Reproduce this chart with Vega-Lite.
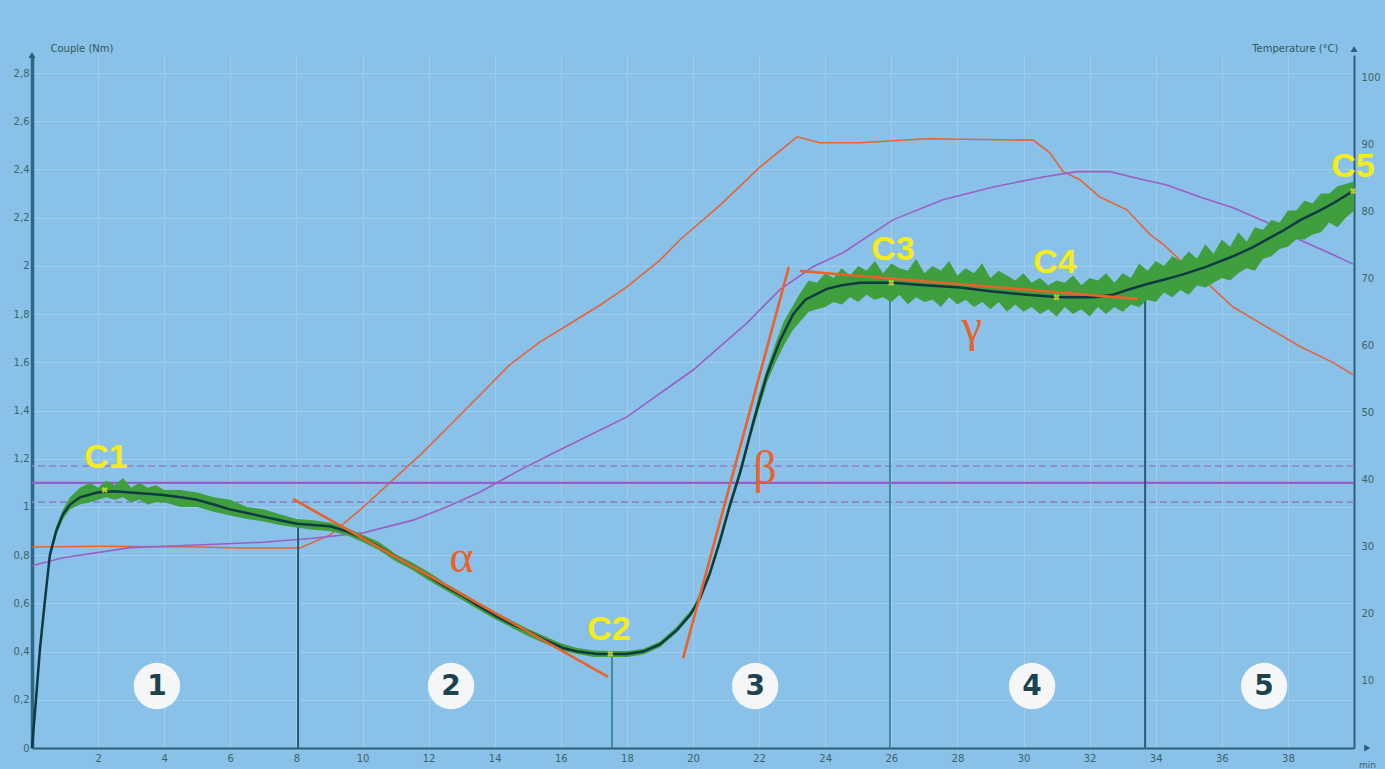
{
  "$schema": "https://vega.github.io/schema/vega-lite/v6.json",
  "width": 1322,
  "height": 693,
  "autosize": {"type": "none"},
  "padding": {"left": 32, "top": 55, "right": 31, "bottom": 21},
  "background": "#8AC1E9",
  "config": {"view": {"stroke": null}, "font": "DejaVu Sans"},
  "datasets": {
    "temps": [
      {"curve": "consigne", "t": 0, "c": 30.0},
      {"curve": "consigne", "t": 2.06, "c": 30.1},
      {"curve": "consigne", "t": 5.08, "c": 30.0},
      {"curve": "consigne", "t": 6.29, "c": 29.85},
      {"curve": "consigne", "t": 8.11, "c": 29.85},
      {"curve": "consigne", "t": 9.02, "c": 31.8},
      {"curve": "consigne", "t": 9.92, "c": 35.5},
      {"curve": "consigne", "t": 10.83, "c": 39.6},
      {"curve": "consigne", "t": 11.74, "c": 43.7},
      {"curve": "consigne", "t": 12.65, "c": 48.2},
      {"curve": "consigne", "t": 13.56, "c": 52.7},
      {"curve": "consigne", "t": 14.46, "c": 57.2},
      {"curve": "consigne", "t": 15.37, "c": 60.6},
      {"curve": "consigne", "t": 15.98, "c": 62.4},
      {"curve": "consigne", "t": 17.19, "c": 66.1},
      {"curve": "consigne", "t": 18.0, "c": 68.8},
      {"curve": "consigne", "t": 19.0, "c": 72.8},
      {"curve": "consigne", "t": 19.6, "c": 75.8},
      {"curve": "consigne", "t": 20.82, "c": 81.0},
      {"curve": "consigne", "t": 22.03, "c": 86.7},
      {"curve": "consigne", "t": 23.15, "c": 91.2},
      {"curve": "consigne", "t": 23.84, "c": 90.3},
      {"curve": "consigne", "t": 25.05, "c": 90.3},
      {"curve": "consigne", "t": 27.08, "c": 90.9},
      {"curve": "consigne", "t": 30.29, "c": 90.7},
      {"curve": "consigne", "t": 30.8, "c": 88.8},
      {"curve": "consigne", "t": 31.2, "c": 86.0},
      {"curve": "consigne", "t": 31.71, "c": 84.8},
      {"curve": "consigne", "t": 32.31, "c": 82.2},
      {"curve": "consigne", "t": 33.13, "c": 80.3},
      {"curve": "consigne", "t": 33.83, "c": 76.6},
      {"curve": "consigne", "t": 34.22, "c": 75.2},
      {"curve": "consigne", "t": 34.95, "c": 71.8},
      {"curve": "consigne", "t": 35.55, "c": 69.4},
      {"curve": "consigne", "t": 36.34, "c": 65.8},
      {"curve": "consigne", "t": 37.37, "c": 62.8},
      {"curve": "consigne", "t": 38.37, "c": 59.9},
      {"curve": "consigne", "t": 39.37, "c": 57.5},
      {"curve": "consigne", "t": 39.97, "c": 55.7},
      {"curve": "pate", "t": 0, "c": 27.2},
      {"curve": "pate", "t": 0.94, "c": 28.4},
      {"curve": "pate", "t": 2.97, "c": 29.9},
      {"curve": "pate", "t": 4.99, "c": 30.3},
      {"curve": "pate", "t": 6.99, "c": 30.7},
      {"curve": "pate", "t": 8.5, "c": 31.3},
      {"curve": "pate", "t": 10.02, "c": 32.1},
      {"curve": "pate", "t": 11.53, "c": 34.0},
      {"curve": "pate", "t": 12.56, "c": 36.0},
      {"curve": "pate", "t": 13.56, "c": 38.2},
      {"curve": "pate", "t": 14.77, "c": 41.5},
      {"curve": "pate", "t": 15.98, "c": 44.5},
      {"curve": "pate", "t": 18.0, "c": 49.4},
      {"curve": "pate", "t": 20.0, "c": 56.4},
      {"curve": "pate", "t": 21.63, "c": 63.4},
      {"curve": "pate", "t": 22.63, "c": 68.4},
      {"curve": "pate", "t": 23.63, "c": 71.8},
      {"curve": "pate", "t": 24.54, "c": 73.9},
      {"curve": "pate", "t": 26.05, "c": 78.8},
      {"curve": "pate", "t": 27.56, "c": 81.8},
      {"curve": "pate", "t": 29.08, "c": 83.7},
      {"curve": "pate", "t": 30.59, "c": 85.2},
      {"curve": "pate", "t": 31.62, "c": 86.0},
      {"curve": "pate", "t": 32.62, "c": 86.0},
      {"curve": "pate", "t": 33.62, "c": 84.8},
      {"curve": "pate", "t": 34.34, "c": 84.0},
      {"curve": "pate", "t": 35.34, "c": 82.2},
      {"curve": "pate", "t": 36.34, "c": 80.6},
      {"curve": "pate", "t": 37.37, "c": 78.4},
      {"curve": "pate", "t": 38.37, "c": 75.8},
      {"curve": "pate", "t": 39.37, "c": 73.6},
      {"curve": "pate", "t": 39.97, "c": 72.2}
    ],
    "raw": [
      {"t": 0, "lo": 0, "hi": 0.02},
      {"t": 0.12, "lo": 0.18, "hi": 0.23},
      {"t": 0.24, "lo": 0.39, "hi": 0.44},
      {"t": 0.39, "lo": 0.59, "hi": 0.63},
      {"t": 0.54, "lo": 0.78, "hi": 0.82},
      {"t": 0.73, "lo": 0.88, "hi": 0.92},
      {"t": 0.94, "lo": 0.95, "hi": 0.99},
      {"t": 1.15, "lo": 0.99, "hi": 1.04},
      {"t": 1.45, "lo": 1.01, "hi": 1.08},
      {"t": 1.75, "lo": 1.02, "hi": 1.1},
      {"t": 2.0, "lo": 1.03, "hi": 1.08},
      {"t": 2.25, "lo": 1.04, "hi": 1.11},
      {"t": 2.5, "lo": 1.03, "hi": 1.09},
      {"t": 2.75, "lo": 1.04, "hi": 1.12},
      {"t": 3.0, "lo": 1.02, "hi": 1.08},
      {"t": 3.25, "lo": 1.03, "hi": 1.1},
      {"t": 3.5, "lo": 1.01, "hi": 1.08},
      {"t": 3.75, "lo": 1.02, "hi": 1.09},
      {"t": 4.0, "lo": 1.02, "hi": 1.07},
      {"t": 4.5, "lo": 1.0, "hi": 1.07},
      {"t": 5.0, "lo": 1.0, "hi": 1.06},
      {"t": 5.5, "lo": 0.98, "hi": 1.04},
      {"t": 6.0, "lo": 0.965, "hi": 1.03},
      {"t": 6.5, "lo": 0.95, "hi": 1.0},
      {"t": 7.0, "lo": 0.94, "hi": 0.99},
      {"t": 7.5, "lo": 0.925, "hi": 0.97},
      {"t": 8.0, "lo": 0.915, "hi": 0.95},
      {"t": 8.5, "lo": 0.905, "hi": 0.945},
      {"t": 9.0, "lo": 0.9, "hi": 0.935},
      {"t": 9.5, "lo": 0.885, "hi": 0.915},
      {"t": 10.0, "lo": 0.855, "hi": 0.885},
      {"t": 10.5, "lo": 0.82, "hi": 0.855},
      {"t": 11.0, "lo": 0.775, "hi": 0.805},
      {"t": 11.5, "lo": 0.74, "hi": 0.77},
      {"t": 12.0, "lo": 0.695, "hi": 0.73},
      {"t": 12.5, "lo": 0.655, "hi": 0.685},
      {"t": 13.0, "lo": 0.615, "hi": 0.645},
      {"t": 13.5, "lo": 0.575, "hi": 0.605},
      {"t": 14.0, "lo": 0.535, "hi": 0.565},
      {"t": 14.5, "lo": 0.5, "hi": 0.53},
      {"t": 15.0, "lo": 0.465, "hi": 0.495},
      {"t": 15.5, "lo": 0.435, "hi": 0.465},
      {"t": 16.0, "lo": 0.405, "hi": 0.435},
      {"t": 16.5, "lo": 0.39, "hi": 0.415},
      {"t": 17.0, "lo": 0.378, "hi": 0.405},
      {"t": 17.5, "lo": 0.378, "hi": 0.402},
      {"t": 18.0, "lo": 0.378, "hi": 0.402},
      {"t": 18.5, "lo": 0.388, "hi": 0.412},
      {"t": 19.0, "lo": 0.418, "hi": 0.442},
      {"t": 19.5, "lo": 0.478, "hi": 0.502},
      {"t": 20.0, "lo": 0.558, "hi": 0.582},
      {"t": 20.5, "lo": 0.705, "hi": 0.735},
      {"t": 21.0, "lo": 0.935, "hi": 0.965},
      {"t": 21.5, "lo": 1.16, "hi": 1.2},
      {"t": 21.75, "lo": 1.29, "hi": 1.33},
      {"t": 22.0, "lo": 1.41, "hi": 1.47},
      {"t": 22.25, "lo": 1.52, "hi": 1.58},
      {"t": 22.5, "lo": 1.6, "hi": 1.68},
      {"t": 22.75, "lo": 1.67, "hi": 1.77},
      {"t": 23.0, "lo": 1.73, "hi": 1.83},
      {"t": 23.25, "lo": 1.77, "hi": 1.89},
      {"t": 23.5, "lo": 1.81, "hi": 1.94},
      {"t": 23.75, "lo": 1.82, "hi": 1.93},
      {"t": 24.0, "lo": 1.83, "hi": 1.97},
      {"t": 24.25, "lo": 1.85, "hi": 1.95},
      {"t": 24.5, "lo": 1.84, "hi": 1.99},
      {"t": 24.75, "lo": 1.87, "hi": 1.96},
      {"t": 25.0, "lo": 1.85, "hi": 2.0},
      {"t": 25.25, "lo": 1.88, "hi": 1.98},
      {"t": 25.5, "lo": 1.86, "hi": 2.02},
      {"t": 25.75, "lo": 1.87, "hi": 1.97},
      {"t": 26.0, "lo": 1.85, "hi": 2.01},
      {"t": 26.25, "lo": 1.88, "hi": 1.99},
      {"t": 26.5, "lo": 1.84, "hi": 1.98},
      {"t": 26.75, "lo": 1.87, "hi": 2.03},
      {"t": 27.0, "lo": 1.85, "hi": 1.97},
      {"t": 27.25, "lo": 1.86, "hi": 2.0},
      {"t": 27.5, "lo": 1.83, "hi": 1.98},
      {"t": 27.75, "lo": 1.87, "hi": 2.02},
      {"t": 28.0, "lo": 1.84, "hi": 1.96},
      {"t": 28.25, "lo": 1.86, "hi": 1.99},
      {"t": 28.5, "lo": 1.83, "hi": 1.97},
      {"t": 28.75, "lo": 1.85, "hi": 2.01},
      {"t": 29.0, "lo": 1.82, "hi": 1.95},
      {"t": 29.25, "lo": 1.85, "hi": 1.98},
      {"t": 29.5, "lo": 1.81, "hi": 1.96},
      {"t": 29.75, "lo": 1.84, "hi": 1.94},
      {"t": 30.0, "lo": 1.81, "hi": 1.97},
      {"t": 30.25, "lo": 1.83, "hi": 1.93},
      {"t": 30.5, "lo": 1.8, "hi": 1.95},
      {"t": 30.75, "lo": 1.82, "hi": 1.92},
      {"t": 31.0, "lo": 1.79, "hi": 1.94},
      {"t": 31.25, "lo": 1.83, "hi": 1.93},
      {"t": 31.5, "lo": 1.8, "hi": 1.96},
      {"t": 31.75, "lo": 1.82, "hi": 1.92},
      {"t": 32.0, "lo": 1.79, "hi": 1.95},
      {"t": 32.25, "lo": 1.83, "hi": 1.94},
      {"t": 32.5, "lo": 1.8, "hi": 1.97},
      {"t": 32.75, "lo": 1.83, "hi": 1.93},
      {"t": 33.0, "lo": 1.81, "hi": 1.97},
      {"t": 33.25, "lo": 1.84, "hi": 1.95},
      {"t": 33.5, "lo": 1.83, "hi": 2.01},
      {"t": 33.75, "lo": 1.86, "hi": 1.98},
      {"t": 34.0, "lo": 1.85, "hi": 2.02},
      {"t": 34.25, "lo": 1.89, "hi": 2.0},
      {"t": 34.5, "lo": 1.87, "hi": 2.04},
      {"t": 34.75, "lo": 1.9, "hi": 2.02},
      {"t": 35.0, "lo": 1.88, "hi": 2.06},
      {"t": 35.25, "lo": 1.92, "hi": 2.03},
      {"t": 35.5, "lo": 1.91, "hi": 2.09},
      {"t": 35.75, "lo": 1.93, "hi": 2.05},
      {"t": 36.0, "lo": 1.95, "hi": 2.11},
      {"t": 36.25, "lo": 1.94, "hi": 2.08},
      {"t": 36.5, "lo": 1.97, "hi": 2.14},
      {"t": 36.75, "lo": 1.99, "hi": 2.1},
      {"t": 37.0, "lo": 1.98, "hi": 2.16},
      {"t": 37.25, "lo": 2.03, "hi": 2.15},
      {"t": 37.5, "lo": 2.04, "hi": 2.19},
      {"t": 37.75, "lo": 2.07, "hi": 2.18},
      {"t": 38.0, "lo": 2.08, "hi": 2.23},
      {"t": 38.25, "lo": 2.11, "hi": 2.23},
      {"t": 38.5, "lo": 2.11, "hi": 2.27},
      {"t": 38.75, "lo": 2.13, "hi": 2.26},
      {"t": 39.0, "lo": 2.14, "hi": 2.3},
      {"t": 39.25, "lo": 2.18, "hi": 2.3},
      {"t": 39.5, "lo": 2.16, "hi": 2.33},
      {"t": 39.75, "lo": 2.2, "hi": 2.34},
      {"t": 40.0, "lo": 2.23, "hi": 2.35}
    ],
    "smooth": [
      {"t": 0, "nm": 0}, {"t": 0.12, "nm": 0.2}, {"t": 0.24, "nm": 0.41}, {"t": 0.39, "nm": 0.61},
      {"t": 0.54, "nm": 0.8}, {"t": 0.73, "nm": 0.9}, {"t": 0.94, "nm": 0.97}, {"t": 1.15, "nm": 1.01},
      {"t": 1.45, "nm": 1.04}, {"t": 1.97, "nm": 1.06}, {"t": 2.5, "nm": 1.065}, {"t": 2.97, "nm": 1.06},
      {"t": 3.5, "nm": 1.055}, {"t": 3.96, "nm": 1.05}, {"t": 4.5, "nm": 1.04}, {"t": 4.99, "nm": 1.03},
      {"t": 5.5, "nm": 1.01}, {"t": 5.99, "nm": 0.99}, {"t": 6.5, "nm": 0.975}, {"t": 6.99, "nm": 0.96},
      {"t": 7.5, "nm": 0.945}, {"t": 8.02, "nm": 0.93}, {"t": 8.5, "nm": 0.925}, {"t": 9.02, "nm": 0.92},
      {"t": 9.5, "nm": 0.9}, {"t": 10.02, "nm": 0.87}, {"t": 10.5, "nm": 0.835}, {"t": 11.04, "nm": 0.79},
      {"t": 11.5, "nm": 0.755}, {"t": 12.04, "nm": 0.71}, {"t": 12.5, "nm": 0.67}, {"t": 13.04, "nm": 0.63},
      {"t": 13.5, "nm": 0.59}, {"t": 14.07, "nm": 0.545}, {"t": 14.5, "nm": 0.515}, {"t": 15.07, "nm": 0.48},
      {"t": 15.5, "nm": 0.45}, {"t": 16.07, "nm": 0.415}, {"t": 16.5, "nm": 0.4}, {"t": 17.1, "nm": 0.39},
      {"t": 17.58, "nm": 0.39}, {"t": 18.0, "nm": 0.39}, {"t": 18.49, "nm": 0.4}, {"t": 19.0, "nm": 0.43},
      {"t": 19.52, "nm": 0.49}, {"t": 19.9, "nm": 0.55}, {"t": 20.21, "nm": 0.62}, {"t": 20.5, "nm": 0.72},
      {"t": 20.82, "nm": 0.86}, {"t": 21.1, "nm": 1.0}, {"t": 21.42, "nm": 1.14}, {"t": 21.82, "nm": 1.35},
      {"t": 22.24, "nm": 1.55}, {"t": 22.63, "nm": 1.69}, {"t": 23.03, "nm": 1.8}, {"t": 23.4, "nm": 1.86},
      {"t": 24.05, "nm": 1.905}, {"t": 24.5, "nm": 1.92}, {"t": 25.05, "nm": 1.93}, {"t": 26.05, "nm": 1.93},
      {"t": 27.0, "nm": 1.92}, {"t": 28.08, "nm": 1.91}, {"t": 29.0, "nm": 1.895}, {"t": 30.1, "nm": 1.88},
      {"t": 31.1, "nm": 1.87}, {"t": 32.1, "nm": 1.87}, {"t": 32.7, "nm": 1.88}, {"t": 33.13, "nm": 1.9},
      {"t": 33.74, "nm": 1.925}, {"t": 34.3, "nm": 1.945}, {"t": 34.83, "nm": 1.965}, {"t": 35.5, "nm": 1.995},
      {"t": 36.34, "nm": 2.04}, {"t": 36.9, "nm": 2.075}, {"t": 37.37, "nm": 2.11}, {"t": 37.9, "nm": 2.15},
      {"t": 38.37, "nm": 2.19}, {"t": 38.9, "nm": 2.225}, {"t": 39.37, "nm": 2.26}, {"t": 39.97, "nm": 2.31}
    ],
    "hlines": [
      {"nm": 1.1, "kind": "consigne"},
      {"nm": 1.17, "kind": "tolerance"},
      {"nm": 1.02, "kind": "tolerance"}
    ],
    "vlines": [
      {"t": 8.05, "nm": 0.945, "kind": "a"},
      {"t": 17.55, "nm": 0.39, "kind": "b"},
      {"t": 25.96, "nm": 1.93, "kind": "b"},
      {"t": 33.68, "nm": 1.925, "kind": "a"}
    ],
    "tangents": [
      {"name": "alpha", "t": 7.9, "nm": 1.033},
      {"name": "alpha", "t": 17.43, "nm": 0.295},
      {"name": "beta", "t": 19.7, "nm": 0.373},
      {"name": "beta", "t": 22.9, "nm": 1.996},
      {"name": "gamma", "t": 23.24, "nm": 1.979},
      {"name": "gamma", "t": 33.46, "nm": 1.863}
    ],
    "points": [
      {"label": "C1", "t": 2.2, "nm": 1.07, "lt": 2.24, "lnm": 1.162},
      {"label": "C2", "t": 17.5, "nm": 0.39, "lt": 17.46, "lnm": 0.448},
      {"label": "C3", "t": 26.0, "nm": 1.93, "lt": 26.05, "lnm": 2.025},
      {"label": "C4", "t": 31.0, "nm": 1.87, "lt": 30.95, "lnm": 1.971},
      {"label": "C5", "t": 39.97, "nm": 2.31, "lt": 39.97, "lnm": 2.369}
    ],
    "greek": [
      {"g": "α", "t": 13.0, "nm": 0.73},
      {"g": "β", "t": 22.18, "nm": 1.1},
      {"g": "γ", "t": 28.44, "nm": 1.69}
    ],
    "phases": [
      {"n": "1", "t": 3.78, "nm": 0.257},
      {"n": "2", "t": 12.68, "nm": 0.257},
      {"n": "3", "t": 21.88, "nm": 0.257},
      {"n": "4", "t": 30.26, "nm": 0.257},
      {"n": "5", "t": 37.28, "nm": 0.257}
    ],
    "arrows": [
      {"t": 0, "nm": 2.875, "dir": "up"},
      {"t": 40, "nm": 2.9, "dir": "up"},
      {"t": 40.4, "nm": 0, "dir": "right"}
    ]
  },
  "layer": [
    {
      "data": {"name": "temps"},
      "transform": [{"filter": "datum.curve == 'consigne'"}],
      "mark": {"type": "line", "strokeWidth": 1.6, "color": "#e4643a"},
      "encoding": {
        "x": {
          "field": "t", "type": "quantitative",
          "scale": {"domain": [0, 40], "nice": false, "zero": false},
          "axis": {
            "orient": "bottom",
            "values": [2, 4, 6, 8, 10, 12, 14, 16, 18, 20, 22, 24, 26, 28, 30, 32, 34, 36, 38],
            "grid": true, "gridColor": "#a0ccec", "gridWidth": 1,
            "ticks": false, "labelPadding": 5, "labelFontSize": 10, "labelColor": "#3d6464",
            "domainColor": "#2d6076", "domainWidth": 2,
            "title": "min", "titleFontSize": 9, "titleFontWeight": "normal", "titleColor": "#3d6464",
            "titleX": 1335, "titleY": 16, "titleAlign": "center", "titleBaseline": "middle"
          }
        },
        "y": {
          "field": "c", "type": "quantitative",
          "scale": {"domain": [0, 103.4], "nice": false, "zero": false},
          "axis": {
            "orient": "right", "values": [10, 20, 30, 40, 50, 60, 70, 80, 90, 100],
            "grid": false, "ticks": false, "labelPadding": 7, "labelFontSize": 10, "labelColor": "#3d6464",
            "domainColor": "#2d6076", "domainWidth": 2,
            "title": "Temperature (°C)", "titleAngle": 0, "titleAlign": "right", "titleBaseline": "middle",
            "titleX": -16, "titleY": -7, "titleFontSize": 10, "titleFontWeight": "normal", "titleColor": "#2f5a5a"
          }
        }
      }
    },
    {
      "data": {"name": "temps"},
      "transform": [{"filter": "datum.curve == 'pate'"}],
      "mark": {"type": "line", "strokeWidth": 1.6, "color": "#9a5fc4"},
      "encoding": {
        "x": {"field": "t", "type": "quantitative", "scale": {"domain": [0, 40], "nice": false, "zero": false}},
        "y": {"field": "c", "type": "quantitative", "scale": {"domain": [0, 103.4], "nice": false, "zero": false}, "axis": null}
      }
    },
    {
      "data": {"name": "hlines"},
      "transform": [{"filter": "datum.kind == 'tolerance'"}],
      "mark": {"type": "rule", "color": "#8d85c6", "strokeWidth": 1.6, "strokeDash": [7, 4]},
      "encoding": {
        "y": {"field": "nm", "type": "quantitative", "scale": {"domain": [0, 2.875], "nice": false, "zero": false}, "axis": null}
      }
    },
    {
      "data": {"name": "hlines"},
      "transform": [{"filter": "datum.kind == 'consigne'"}],
      "mark": {"type": "rule", "color": "#9a5cc6", "strokeWidth": 2.2},
      "encoding": {
        "y": {"field": "nm", "type": "quantitative", "scale": {"domain": [0, 2.875], "nice": false, "zero": false}, "axis": null}
      }
    },
    {
      "data": {"name": "vlines"},
      "transform": [{"filter": "datum.kind == 'a'"}],
      "mark": {"type": "rule", "strokeWidth": 2, "color": "#2c5870"},
      "encoding": {
        "x": {"field": "t", "type": "quantitative", "scale": {"domain": [0, 40], "nice": false, "zero": false}},
        "y": {"field": "nm", "type": "quantitative", "scale": {"domain": [0, 2.875], "nice": false, "zero": false}, "axis": null},
        "y2": {"datum": 0}
      }
    },
    {
      "data": {"name": "vlines"},
      "transform": [{"filter": "datum.kind == 'b'"}],
      "mark": {"type": "rule", "strokeWidth": 2, "color": "#3a8f98"},
      "encoding": {
        "x": {"field": "t", "type": "quantitative", "scale": {"domain": [0, 40], "nice": false, "zero": false}},
        "y": {"field": "nm", "type": "quantitative", "scale": {"domain": [0, 2.875], "nice": false, "zero": false}, "axis": null},
        "y2": {"datum": 0}
      }
    },
    {
      "data": {"name": "raw"},
      "mark": {"type": "area", "color": "#3f9f3f", "opacity": 1},
      "encoding": {
        "x": {"field": "t", "type": "quantitative", "scale": {"domain": [0, 40], "nice": false, "zero": false}},
        "y": {"field": "lo", "type": "quantitative", "scale": {"domain": [0, 2.875], "nice": false, "zero": false}, "axis": null},
        "y2": {"field": "hi"}
      }
    },
    {
      "data": {"name": "smooth"},
      "mark": {"type": "line", "color": "#0f3a44", "strokeWidth": 2.5},
      "encoding": {
        "x": {"field": "t", "type": "quantitative", "scale": {"domain": [0, 40], "nice": false, "zero": false}},
        "y": {
          "field": "nm", "type": "quantitative",
          "scale": {"domain": [0, 2.875], "nice": false, "zero": false},
          "axis": {
            "orient": "left", "values": [0, 0.2, 0.4, 0.6, 0.8, 1, 1.2, 1.4, 1.6, 1.8, 2, 2.2, 2.4, 2.6, 2.8],
            "labelExpr": "replace(format(datum.value, '.1~f'), '.', ',')",
            "grid": true, "gridColor": "#a0ccec", "gridWidth": 1,
            "ticks": false, "labelPadding": 3, "labelFontSize": 10, "labelColor": "#3d6464",
            "domainColor": "#2d6782", "domainWidth": 3.5,
            "title": "Couple (Nm)", "titleAngle": 0, "titleAlign": "left", "titleBaseline": "middle",
            "titleX": 18, "titleY": -7, "titleFontSize": 10, "titleFontWeight": "normal", "titleColor": "#2f5a5a"
          }
        }
      }
    },
    {
      "data": {"name": "tangents"},
      "mark": {"type": "line", "color": "#e8622c", "strokeWidth": 2.6},
      "encoding": {
        "x": {"field": "t", "type": "quantitative", "scale": {"domain": [0, 40], "nice": false, "zero": false}},
        "y": {"field": "nm", "type": "quantitative", "scale": {"domain": [0, 2.875], "nice": false, "zero": false}, "axis": null},
        "detail": {"field": "name"}
      }
    },
    {
      "data": {"name": "points"},
      "mark": {"type": "point", "shape": "cross", "angle": 45, "filled": true, "color": "#f3e92a", "size": 40},
      "encoding": {
        "x": {"field": "t", "type": "quantitative", "scale": {"domain": [0, 40], "nice": false, "zero": false}},
        "y": {"field": "nm", "type": "quantitative", "scale": {"domain": [0, 2.875], "nice": false, "zero": false}, "axis": null}
      }
    },
    {
      "data": {"name": "points"},
      "mark": {"type": "text", "font": "Liberation Sans", "fontWeight": "bold", "fontSize": 34, "color": "#f6ec1c", "align": "center", "baseline": "alphabetic"},
      "encoding": {
        "x": {"field": "lt", "type": "quantitative", "scale": {"domain": [0, 40], "nice": false, "zero": false}},
        "y": {"field": "lnm", "type": "quantitative", "scale": {"domain": [0, 2.875], "nice": false, "zero": false}, "axis": null},
        "text": {"field": "label"}
      }
    },
    {
      "data": {"name": "greek"},
      "mark": {"type": "text", "font": "Liberation Serif", "fontSize": 46, "color": "#e8622c", "align": "center", "baseline": "alphabetic"},
      "encoding": {
        "x": {"field": "t", "type": "quantitative", "scale": {"domain": [0, 40], "nice": false, "zero": false}},
        "y": {"field": "nm", "type": "quantitative", "scale": {"domain": [0, 2.875], "nice": false, "zero": false}, "axis": null},
        "text": {"field": "g"}
      }
    },
    {
      "data": {"name": "phases"},
      "mark": {"type": "point", "shape": "circle", "filled": true, "color": "#f4f6f8", "opacity": 1, "size": 2150},
      "encoding": {
        "x": {"field": "t", "type": "quantitative", "scale": {"domain": [0, 40], "nice": false, "zero": false}},
        "y": {"field": "nm", "type": "quantitative", "scale": {"domain": [0, 2.875], "nice": false, "zero": false}, "axis": null}
      }
    },
    {
      "data": {"name": "phases"},
      "mark": {"type": "text", "font": "DejaVu Sans", "fontWeight": "bold", "fontSize": 28, "color": "#1d4350", "align": "center", "baseline": "middle", "dy": 1},
      "encoding": {
        "x": {"field": "t", "type": "quantitative", "scale": {"domain": [0, 40], "nice": false, "zero": false}},
        "y": {"field": "nm", "type": "quantitative", "scale": {"domain": [0, 2.875], "nice": false, "zero": false}, "axis": null},
        "text": {"field": "n"}
      }
    },
    {
      "data": {"name": "arrows"},
      "transform": [{"filter": "datum.dir == 'up'"}],
      "mark": {"type": "point", "shape": "triangle-up", "filled": true, "color": "#2d6076", "opacity": 1, "size": 50},
      "encoding": {
        "x": {"field": "t", "type": "quantitative", "scale": {"domain": [0, 40], "nice": false, "zero": false}},
        "y": {"field": "nm", "type": "quantitative", "scale": {"domain": [0, 2.875], "nice": false, "zero": false}, "axis": null}
      }
    },
    {
      "data": {"name": "arrows"},
      "transform": [{"filter": "datum.dir == 'right'"}],
      "mark": {"type": "point", "shape": "triangle-right", "filled": true, "color": "#2d6076", "opacity": 1, "size": 50},
      "encoding": {
        "x": {"field": "t", "type": "quantitative", "scale": {"domain": [0, 40], "nice": false, "zero": false}},
        "y": {"field": "nm", "type": "quantitative", "scale": {"domain": [0, 2.875], "nice": false, "zero": false}, "axis": null}
      }
    }
  ],
  "resolve": {"scale": {"y": "independent"}}
}
